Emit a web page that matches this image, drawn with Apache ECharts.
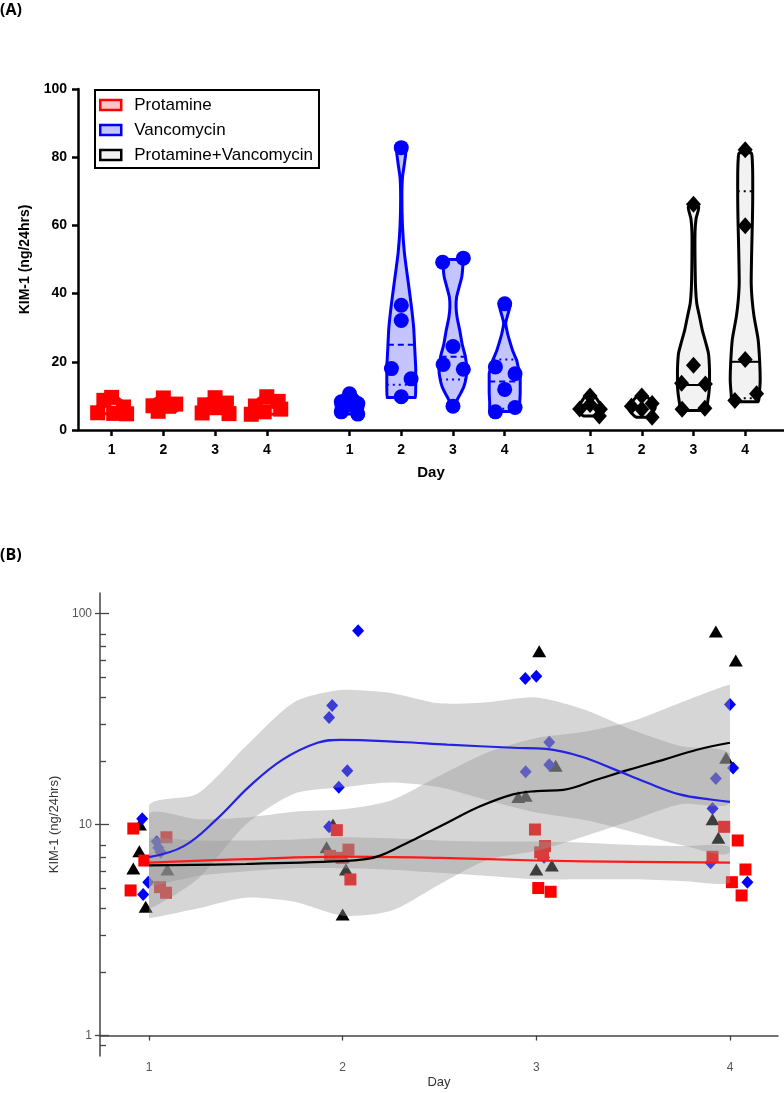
<!DOCTYPE html>
<html>
<head>
<meta charset="utf-8">
<script src="https://cdn.jsdelivr.net/npm/echarts@6/dist/echarts.min.js"></script>
<style>
html,body{margin:0;padding:0;background:#fff}
#main{width:784px;height:1093px}
</style>
</head>
<body>
<div id="main"></div>
<script>
// ---------- data ----------
var dayLabels = ['1', '2', '3', '4'];
var groupStart = [1, 5.6, 10.25];   // x position of day 1 for each group in panel A
var groupNames = ['Protamine', 'Vancomycin', 'Protamine+Vancomycin'];

// KIM-1 (ng/24hrs), one row per day
var protVals  = [[9.57, 8.7, 6.75, 5.05, 4.87, 4.75], [9.4, 7.6, 7.1, 6.95, 5.49], [9.47, 7.9, 7.38, 7.2, 5.0, 4.8], [9.75, 8.4, 7.03, 6.12, 5.33, 4.61]];
var vancVals  = [[10.64, 8.3, 7.75, 7.4, 5.33, 4.66], [82.8, 36.6, 32.1, 18.0, 15.0, 9.75], [50.4, 49.2, 24.5, 19.2, 17.8, 7.0], [37.0, 18.5, 16.5, 11.9, 6.59, 5.33]];
var comboVals = [[10.0, 7.47, 6.19, 6.12, 4.08], [10.0, 7.8, 7.0, 6.12, 3.75], [66.2, 19.0, 13.7, 13.5, 6.4, 6.12], [82.2, 59.9, 20.7, 10.6, 8.65]];

// panel B jittered day positions (same order as values)
var protDayB  = [[0.919, 1.09, 0.976, 1.057, 0.905, 1.088], [1.97, 2.03, 1.935, 1.995, 2.04], [2.993, 3.045, 3.02, 3.035, 3.01, 3.074], [3.97, 4.04, 3.91, 4.08, 4.01, 4.06]];
var vancDayB  = [[0.965, 1.04, 1.048, 1.06, 0.996, 0.97], [2.08, 1.946, 1.93, 2.024, 1.98, 1.93], [3.0, 2.943, 3.067, 3.067, 2.945, 3.04], [4.0, 4.016, 3.927, 3.91, 3.9, 4.09]];
var comboDayB = [[0.953, 0.95, 0.919, 1.095, 0.983], [1.95, 1.917, 2.0, 2.017, 2.0], [3.015, 3.1, 2.945, 2.907, 3.08, 3.0], [3.927, 4.03, 3.98, 3.91, 3.94]];

// panel A horizontal spread of the points (day units)
var protSpreadA  = [[0, -0.15, 0.23, -0.27, 0.04, 0.29], [0, 0.24, -0.2, 0.1, -0.1], [0, 0.22, -0.2, 0.05, -0.25, 0.27], [0, 0.22, -0.22, 0.27, -0.05, -0.3]];
var vancSpreadA  = [[0, -0.16, 0.16, 0, -0.16, 0.16], [0, 0, 0, -0.19, 0.19, 0], [0.2, -0.2, 0, -0.19, 0.2, 0], [0, -0.18, 0.2, 0, 0.2, -0.18]];
var comboSpreadA = [[0, 0, -0.2, 0.2, 0.18], [0, 0.2, -0.2, 0, 0.2], [0, 0, -0.23, 0.23, 0.22, -0.22], [0, 0, 0, 0.22, -0.2]];

// violin outlines: [value, half width in day units], bottom to top
var protViolin = [
  [[4.75, 0.3], [6, 0.3], [7.5, 0.25], [8.7, 0.18], [9.57, 0.1]],
  [[5.49, 0.25], [7, 0.3], [8, 0.25], [9.4, 0.12]],
  [[4.8, 0.28], [6, 0.28], [7.5, 0.3], [8.5, 0.2], [9.47, 0.1]],
  [[4.61, 0.28], [6, 0.3], [7.5, 0.27], [8.6, 0.2], [9.75, 0.1]]
];
var vancViolin = [
  [[4.66, 0.2], [6, 0.25], [7.5, 0.26], [9, 0.2], [10.64, 0.1]],
  [[9.5, 0.27], [13, 0.28], [18, 0.28], [24, 0.26], [30, 0.24], [37, 0.19], [45, 0.12], [52, 0.06], [60, 0.023], [68, 0.012], [74, 0.023], [78, 0.06], [82.9, 0.087]],
  [[7.0, 0.06], [8.8, 0.08], [10.5, 0.14], [12.7, 0.21], [15, 0.25], [17.6, 0.27], [21.5, 0.24], [25, 0.18], [29.3, 0.13], [33, 0.08], [36, 0.06], [39, 0.07], [42, 0.12], [44.9, 0.17], [48, 0.19], [50, 0.19]],
  [[5.4, 0.28], [8, 0.29], [11, 0.3], [14, 0.3], [16.6, 0.3], [18.5, 0.26], [20.5, 0.23], [23, 0.16], [25.4, 0.11], [28, 0.06], [31.3, 0.02], [33.3, 0.05], [35.5, 0.09], [37.2, 0.1]]
];
var comboViolin = [
  [[4.08, 0.12], [5.5, 0.22], [6.5, 0.25], [8, 0.18], [10, 0.08]],
  [[3.75, 0.1], [5, 0.2], [6.5, 0.26], [8, 0.2], [10, 0.08]],
  [[5.7, 0.23], [7.8, 0.27], [12.7, 0.31], [17.6, 0.31], [22.4, 0.29], [26, 0.23], [29.3, 0.17], [33, 0.12], [37.1, 0.064], [42, 0.04], [50, 0.03], [58, 0.03], [62, 0.05], [65.5, 0.1]],
  [[8.3, 0.25], [10.3, 0.27], [14.7, 0.29], [20, 0.28], [26.5, 0.25], [30, 0.21], [33.4, 0.17], [38, 0.135], [43.2, 0.116], [53, 0.126], [62, 0.14], [67.6, 0.145], [75, 0.145], [79.6, 0.135], [81.3, 0.116]]
];
// median / quartile lines: [day index, value, half width]
var vancMed = [[1, 25, 0.26], [2, 21.5, 0.24], [3, 14.2, 0.3]];
var vancQuart = [[1, 13.3, 0.28], [2, 14.8, 0.25], [3, 20.7, 0.22], [3, 6.2, 0.28]];
var comboMed = [[2, 13.2, 0.31], [3, 20, 0.28]];
var comboQuart = [[3, 70, 0.145], [3, 9.3, 0.26]];

// panel B smoothed fits and confidence bands
var bandX = [1, 1.25, 1.5, 1.75, 2, 2.25, 2.5, 2.75, 3, 3.25, 3.5, 3.75, 4];
var blueUpper  = [12.3, 14.0, 23.5, 38.0, 43.5, 42.0, 37.5, 38.0, 40.0, 35.0, 28.0, 23.5, 21.5];
var blueLower  = [4.0, 5.5, 10.0, 14.0, 15.0, 15.8, 15.0, 13.0, 11.4, 10.5, 9.2, 8.0, 7.4];
var redUpper   = [8.6, 8.4, 8.4, 8.5, 8.7, 8.6, 8.4, 8.3, 8.3, 8.2, 8.0, 7.9, 7.8];
var redLower   = [5.1, 5.7, 6.0, 6.2, 6.2, 6.1, 5.9, 5.7, 5.5, 5.5, 5.5, 5.4, 5.3];
var blackUpper = [11.2, 10.6, 10.8, 11.5, 11.8, 13.0, 17.0, 22.0, 25.7, 27.5, 31.0, 38.0, 46.0];
var blackLower = [3.6, 4.0, 4.5, 4.3, 3.7, 3.9, 5.2, 6.8, 7.5, 8.8, 10.5, 12.5, 12.7];

var blueLineX = [1, 1.18, 1.35, 1.52, 1.69, 1.87, 1.99, 2.3, 2.54, 2.88, 3.05, 3.23, 3.4, 3.57, 3.74, 3.91, 4];
var blueLineY = [7.0, 7.9, 10.6, 15.2, 20.3, 24.4, 25.2, 24.6, 23.9, 23.1, 22.8, 21.0, 18.3, 15.8, 13.9, 13.1, 12.8];
var redLineX = [1, 1.5, 2, 2.5, 3, 3.5, 4];
var redLineY = [6.6, 6.85, 7.05, 6.95, 6.75, 6.65, 6.6];
var blackLineX = [1, 1.5, 2, 2.12, 2.19, 2.3, 2.37, 2.54, 2.71, 2.88, 3.0, 3.14, 3.31, 3.48, 3.66, 3.83, 4];
var blackLineY = [6.4, 6.5, 6.7, 6.85, 7.1, 7.9, 8.5, 10.2, 12.2, 13.9, 14.4, 14.6, 16.3, 18.2, 20.3, 22.6, 24.4];

var majorB = [1, 10, 100];
var minorB = [0.9, 2, 3, 4, 5, 6, 7, 8, 20, 30, 40, 50, 60, 70, 80];

// ---------- helpers ----------
var fontA = '"Liberation Sans", Arial, sans-serif';
var lg = function (v) { return Math.log10(v); };

var tickPosA = [];
groupStart.forEach(function (s) { for (var d = 0; d < 4; d++) tickPosA.push(s + d); });

function dayOf(v) {
  for (var g = groupStart.length - 1; g >= 0; g--) {
    if (v >= groupStart[g] - 0.5) return dayLabels[Math.round(v - groupStart[g])];
  }
  return '';
}

// bounding box of a point list, used to keep the bezier smoothing inside it
function bbox(pts) {
  var mn = [Infinity, Infinity], mx = [-Infinity, -Infinity];
  pts.forEach(function (p) {
    mn[0] = Math.min(mn[0], p[0]); mn[1] = Math.min(mn[1], p[1]);
    mx[0] = Math.max(mx[0], p[0]); mx[1] = Math.max(mx[1], p[1]);
  });
  return [mn, mx];
}

function hLine(api, cx, v, hw, color, dash) {
  var a = api.coord([cx - hw, v]), b = api.coord([cx + hw, v]);
  return {type: 'line', shape: {x1: a[0], y1: a[1], x2: b[0], y2: b[1]},
    style: {stroke: color, lineWidth: 2, lineDash: dash}};
}

function violin(name, g, profiles, meds, quarts, edge, fill, medDash) {
  return {
    name: name, type: 'custom', xAxisIndex: 0, yAxisIndex: 0, z: 2,
    itemStyle: {color: fill, borderColor: edge},
    data: profiles.map(function (p, d) { return [groupStart[g] + d, p[0][0]]; }),
    renderItem: function (params, api) {
      var d = params.dataIndex, cx = groupStart[g] + d, prof = profiles[d], pts = [], i;
      for (i = 0; i < prof.length; i++) pts.push(api.coord([cx + prof[i][1], prof[i][0]]));
      for (i = prof.length - 1; i >= 0; i--) pts.push(api.coord([cx - prof[i][1], prof[i][0]]));
      var kids = [{type: 'polygon', shape: {points: pts, smooth: 0.2, smoothConstraint: bbox(pts)},
        style: {fill: fill, stroke: edge, lineWidth: 3, lineJoin: 'round'}}];
      meds.forEach(function (m) { if (m[0] === d) kids.push(hLine(api, cx, m[1], m[2], edge, medDash)); });
      quarts.forEach(function (q) { if (q[0] === d) kids.push(hLine(api, cx, q[1], q[2], edge, [2, 4])); });
      return {type: 'group', children: kids};
    }
  };
}

function pointsA(g, vals, spread, symbol, size, color) {
  var data = [];
  vals.forEach(function (row, d) {
    row.forEach(function (v, k) { data.push([groupStart[g] + d + spread[d][k], v]); });
  });
  return {name: groupNames[g] + ' pts', type: 'scatter', xAxisIndex: 0, yAxisIndex: 0, z: 3,
    symbol: symbol, symbolSize: size, itemStyle: {color: color, opacity: 1}, data: data};
}

function pointsB(xs, vals, symbol, size, color) {
  var data = [];
  vals.forEach(function (row, d) {
    row.forEach(function (v, k) { data.push([xs[d][k], lg(v)]); });
  });
  return {type: 'scatter', xAxisIndex: 1, yAxisIndex: 1, z: 2, silent: true,
    symbol: symbol, symbolSize: size, itemStyle: {color: color, opacity: 1}, data: data};
}

function band(upper, lower) {
  return {
    type: 'custom', xAxisIndex: 1, yAxisIndex: 1, z: 3, silent: true,
    data: [[bandX[0], lg(upper[0])]],
    renderItem: function (params, api) {
      var pts = [], i;
      for (i = 0; i < bandX.length; i++) pts.push(api.coord([bandX[i], lg(upper[i])]));
      for (i = bandX.length - 1; i >= 0; i--) pts.push(api.coord([bandX[i], lg(lower[i])]));
      return {type: 'polygon', shape: {points: pts, smooth: 0.25, smoothConstraint: bbox(pts)},
        style: {fill: 'rgba(153,153,153,0.4)'}};
    }
  };
}

function fit(xs, ys, color) {
  return {type: 'line', xAxisIndex: 1, yAxisIndex: 1, z: 4, silent: true,
    smooth: 0.4, showSymbol: false, lineStyle: {color: color, width: 2.2},
    data: xs.map(function (x, i) { return [x, lg(ys[i])]; })};
}

// ---------- chart ----------
var chart = echarts.init(document.getElementById('main'));
var axisB = '#444';
var option = {
  animation: false,
  backgroundColor: '#fff',
  title: [
    {text: '(A)', left: 0, top: 2, padding: 0,
      textStyle: {fontFamily: '"Open Sans", sans-serif', fontWeight: 'bold', fontSize: 16, color: '#000'}},
    {text: '(B)', left: 0, top: 547, padding: 0,
      textStyle: {fontFamily: '"Open Sans", sans-serif', fontWeight: 'bold', fontSize: 16, color: '#000'}}
  ],
  legend: {
    left: 95, top: 90, orient: 'vertical', icon: 'rect',
    itemWidth: 21, itemHeight: 10, itemGap: 7,
    padding: [6, 6, 4, 4], borderColor: '#000', borderWidth: 2,
    textStyle: {fontFamily: fontA, fontSize: 17, color: '#000', lineHeight: 18, padding: [0, 0, 0, 8]},
    data: [
      {name: 'Protamine', itemStyle: {color: '#ffc4c4', borderColor: '#ff0000', borderWidth: 2.5}},
      {name: 'Vancomycin', itemStyle: {color: '#c4c4ff', borderColor: '#0000ff', borderWidth: 2.5}},
      {name: 'Protamine+Vancomycin', itemStyle: {color: '#f2f2f2', borderColor: '#000', borderWidth: 2.5}}
    ]
  },
  grid: [
    {left: 78, top: 89, width: 706, height: 341},
    {left: 100, top: 593, width: 678, height: 463}
  ],
  xAxis: [
    {gridIndex: 0, type: 'value', min: 0.35, max: 14,
      name: 'Day', nameLocation: 'middle', nameGap: 35,
      nameTextStyle: {fontFamily: fontA, fontWeight: 'bold', fontSize: 15, color: '#000'},
      axisLine: {lineStyle: {color: '#000', width: 2.5}},
      axisTick: {customValues: tickPosA, length: 6, lineStyle: {color: '#000', width: 2.5}},
      axisLabel: {customValues: tickPosA, formatter: dayOf, margin: 13,
        fontFamily: fontA, fontWeight: 'bold', fontSize: 14, color: '#000'},
      splitLine: {show: false}},
    {gridIndex: 1, type: 'value', min: 0.747, max: 4.248,
      name: 'Day', nameLocation: 'middle', nameGap: 20,
      nameTextStyle: {fontFamily: fontA, fontSize: 13, color: '#333'},
      axisLine: {lineStyle: {color: axisB, width: 1.5}},
      axisTick: {customValues: [1, 2, 3, 4], length: 5, lineStyle: {color: axisB, width: 1.3}},
      axisLabel: {customValues: [1, 2, 3, 4], margin: 6, fontFamily: fontA, fontSize: 12, color: '#555'},
      splitLine: {show: false}}
  ],
  yAxis: [
    {gridIndex: 0, type: 'value', min: 0, max: 100, interval: 20,
      name: 'KIM-1 (ng/24hrs)', nameLocation: 'middle', nameGap: 46,
      nameTextStyle: {fontFamily: fontA, fontWeight: 'bold', fontSize: 14, color: '#000'},
      axisLine: {show: true, lineStyle: {color: '#000', width: 2.5}},
      axisTick: {show: true, length: 6, lineStyle: {color: '#000', width: 2.5}},
      axisLabel: {margin: 11, fontFamily: fontA, fontWeight: 'bold', fontSize: 14, color: '#000'},
      splitLine: {show: false}},
    {gridIndex: 1, type: 'value', min: lg(0.8), max: lg(125), position: 'left',
      name: 'KIM-1 (ng/24hrs)', nameLocation: 'middle', nameGap: 30,
      nameTextStyle: {fontFamily: fontA, fontSize: 13, color: '#333'},
      axisLine: {show: true, lineStyle: {color: axisB, width: 1.5}},
      axisTick: {show: true, customValues: majorB.map(lg), length: 5, lineStyle: {color: axisB, width: 1.3}},
      axisLabel: {customValues: majorB.map(lg), margin: 8, fontFamily: fontA, fontSize: 12, color: '#555',
        formatter: function (v) { return String(Math.round(Math.pow(10, v))); }},
      splitLine: {show: false}},
    {gridIndex: 1, type: 'value', min: lg(0.8), max: lg(125), position: 'left', offset: 0,
      axisLine: {show: false},
      axisTick: {show: true, inside: true, customValues: minorB.map(lg), length: 6, lineStyle: {color: axisB, width: 1.3}},
      axisLabel: {show: false}, splitLine: {show: false}},
    {gridIndex: 1, type: 'value', min: lg(0.8), max: lg(125), position: 'left', offset: 0,
      axisLine: {show: false},
      axisTick: {show: true, inside: true, customValues: majorB.map(lg), length: 9, lineStyle: {color: axisB, width: 1.3}},
      axisLabel: {show: false}, splitLine: {show: false}}
  ],
  series: [
    violin('Protamine', 0, protViolin, [], [], '#ff0000', '#ffc4c4', [6, 4]),
    violin('Vancomycin', 1, vancViolin, vancMed, vancQuart, '#0000ff', '#c4c4ff', [6, 4]),
    violin('Protamine+Vancomycin', 2, comboViolin, comboMed, comboQuart, '#000000', '#f2f2f2', null),
    pointsA(0, protVals, protSpreadA, 'rect', 15, '#ff0000'),
    pointsA(1, vancVals, vancSpreadA, 'circle', 15, '#0000ff'),
    pointsA(2, comboVals, comboSpreadA, 'diamond', [15, 17], '#000000'),

    pointsB(comboDayB, comboVals, 'triangle', [14, 12], '#000000'),
    pointsB(vancDayB, vancVals, 'diamond', [12, 13], '#0000ff'),
    pointsB(protDayB, protVals, 'rect', 12, '#ff0000'),
    band(blueUpper, blueLower),
    band(redUpper, redLower),
    band(blackUpper, blackLower),
    fit(redLineX, redLineY, '#ff1a1a'),
    fit(blackLineX, blackLineY, '#000000'),
    fit(blueLineX, blueLineY, '#2424e0')
  ]
};
chart.setOption(option);
</script>
</body>
</html>
